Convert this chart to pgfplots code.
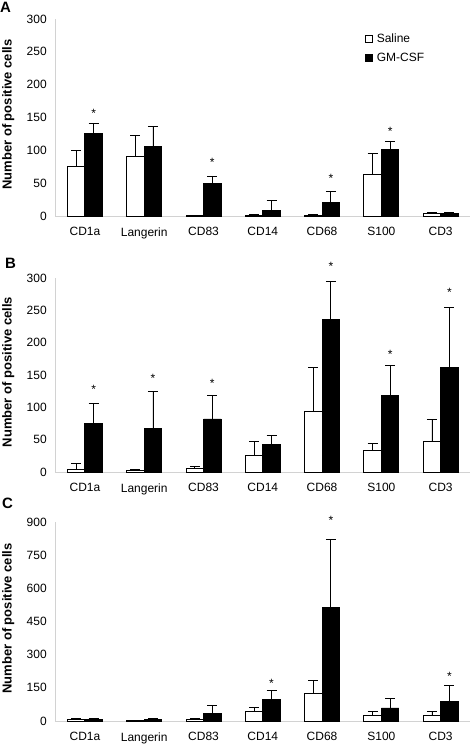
\documentclass[border=0pt]{standalone}
\usepackage{pgfplots}
\pgfplotsset{compat=1.18}
\usepackage{fontspec}
\setmainfont{Liberation Sans}

\pgfplotsset{
 panel/.style={
  scale only axis, width=415pt,
  xmin=-0.5, xmax=6.5, ymin=0,
  axis lines*=left,
  axis line style={draw=gray!35, line width=0.8pt},
  tick style={draw=none},
  xtick={0,...,6},
  xticklabels={CD1a,Langerin,CD83,CD14,CD68,S100,CD3},
  tick label style={font=\fontsize{12}{14}\selectfont},
  /pgf/number format/assume math mode=true,
  xticklabel style={yshift=-8pt},
  yticklabel style={xshift=-5pt},
  every axis y label/.style={at={(axis description cs:0,0.5)}, xshift=-47pt, yshift=3pt, rotate=90, anchor=center, font=\bfseries\fontsize{13}{15}\selectfont},
  ylabel={Number of positive cells},
  clip=false,
 },
 sal/.style={ybar, bar width=17.5pt, bar shift=-8.75pt, draw=black, fill=white, line width=0.9pt,
  error bars/y dir=plus, error bars/y explicit,
  error bars/error bar style={line width=0.8pt, black, xshift=-8.75pt},
  error bars/error mark options={rotate=90, mark size=5pt, line width=0.8pt, black},
  legend image code/.code={\draw[black, fill=white, line width=0.6pt] (0pt,-3.5pt) rectangle (7pt,3.5pt);}},
 gm/.style={ybar, bar width=17.5pt, bar shift=8.75pt, draw=black, fill=black, line width=0.9pt,
  error bars/y dir=plus, error bars/y explicit,
  error bars/error bar style={line width=0.8pt, black, xshift=8.75pt},
  error bars/error mark options={rotate=90, mark size=5pt, line width=0.8pt, black},
  legend image code/.code={\draw[black, fill=black, line width=0.6pt] (0pt,-3.5pt) rectangle (7pt,3.5pt);}},
 ast/.style={forget plot, only marks, mark=none, nodes near coords={*}, nodes near coords style={anchor=base, inner sep=0pt, font=\fontsize{12}{14}\selectfont}},
}

\begin{document}
\begin{tikzpicture}
\useasboundingbox (0pt,0pt) rectangle (475pt,-747pt);

% Panel A
\begin{axis}[panel, at={(55.3pt,-216pt)}, anchor=south west, height=197pt, ymax=300, ytick={0,50,...,300},
  legend style={at={(axis description cs:0.745,0.935)}, anchor=north west, draw=none, fill=none,
   font=\fontsize{12}{14}\selectfont, row sep=6pt, inner sep=0pt, nodes={inner sep=1.5pt},
   /tikz/every odd column/.append style={column sep=3pt}},
  legend cell align=left]
\addplot[sal] coordinates {(0,75) +- (0,25) (1,90) +- (0,32) (2,1) +- (0,0) (3,1) +- (0,1) (4,1) +- (0,1) (5,64) +- (0,31) (6,4.5) +- (0,1.5)};
\addlegendentry{Saline}
\addplot[gm] coordinates {(0,125) +- (0,16) (1,106) +- (0,31) (2,50) +- (0,11) (3,8) +- (0,16) (4,21) +- (0,17) (5,101) +- (0,12) (6,4) +- (0,2)};
\addlegendentry{GM-CSF}
\addplot[ast] coordinates {(0.1476,150) (2.1476,75) (4.1476,51.5) (5.1476,122.5)};
\end{axis}

% Panel B
\begin{axis}[panel, at={(55.3pt,-472pt)}, anchor=south west, height=194pt, ymax=300, ytick={0,50,...,300}]
\addplot[sal] coordinates {(0,4.6) +- (0,8.4) (1,2.6) +- (0,2) (2,5) +- (0,4) (3,26) +- (0,21) (4,93) +- (0,68) (5,33.5) +- (0,10.5) (6,47) +- (0,34)};
\addplot[gm] coordinates {(0,75) +- (0,31) (1,67) +- (0,57) (2,82) +- (0,37) (3,43) +- (0,13) (4,236) +- (0,58) (5,119) +- (0,46) (6,162) +- (0,92)};
\addplot[ast] coordinates {(0.1476,121) (1.1476,139) (2.1476,131) (4.1476,311) (5.1476,176) (6.1476,272)};
\end{axis}

% Panel C
\begin{axis}[panel, at={(55.3pt,-721pt)}, anchor=south west, height=199pt, ymax=900, ytick={0,150,...,900}]
\addplot[sal] coordinates {(0,7.5) +- (0,2.5) (1,0.5) +- (0,4) (2,9) +- (0,3) (3,44) +- (0,19) (4,123) +- (0,59) (5,27) +- (0,17) (6,27) +- (0,17)};
\addplot[gm] coordinates {(0,7.5) +- (0,2.5) (1,7.5) +- (0,2.5) (2,33) +- (0,36) (3,98) +- (0,42) (4,515) +- (0,307) (5,59) +- (0,42) (6,87) +- (0,72.5)};
\addplot[ast] coordinates {(3.1476,151) (4.1476,891) (6.1476,181)};
\end{axis}

\node[anchor=north west, inner sep=0pt, font=\bfseries\fontsize{15}{15}\selectfont] at (0pt,-2pt) {A};
\node[anchor=north west, inner sep=0pt, font=\bfseries\fontsize{15}{15}\selectfont] at (5pt,-258pt) {B};
\node[anchor=north west, inner sep=0pt, font=\bfseries\fontsize{15}{15}\selectfont] at (2pt,-498pt) {C};
\end{tikzpicture}
\end{document}
